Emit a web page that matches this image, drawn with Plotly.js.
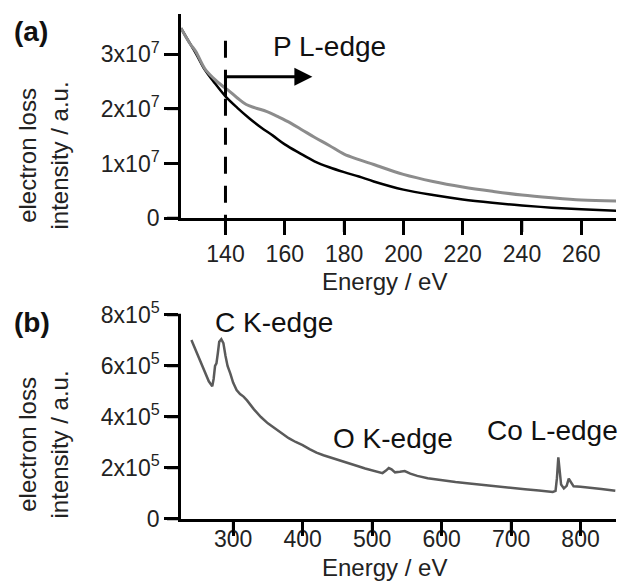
<!DOCTYPE html>
<html>
<head>
<meta charset="utf-8">
<script src="https://cdn.plot.ly/plotly-3.0.1.min.js"></script>
<style>html,body{margin:0;padding:0;background:#fff;}#chart{width:625px;height:586px;}</style>
</head>
<body>
<div id="chart"></div>
<script>
// ---- Panel (a): P L-edge region ----
const energyA = [125,128,130,133,136,139,141,144,147,150,154,158,162,166,170,175,180,185,190,200,210,220,230,240,250,260,272];
const spectrumA = [3.48e7,3.2e7,3.05e7,2.74e7,2.56e7,2.42e7,2.34e7,2.2e7,2.08e7,2.02e7,1.95e7,1.85e7,1.74e7,1.61e7,1.48e7,1.33e7,1.17e7,1.07e7,0.98e7,0.8e7,0.67e7,0.57e7,0.49e7,0.42e7,0.37e7,0.33e7,0.31e7];
const energyFit = [125,128,130,133,136,140,144,148,152,156,160,165,170,175,180,185,190,200,210,220,230,240,250,260,272];
const backgroundFit = [3.48e7,3.2e7,3.02e7,2.72e7,2.5e7,2.23e7,2.02e7,1.83e7,1.66e7,1.51e7,1.35e7,1.19e7,1.04e7,0.93e7,0.84e7,0.76e7,0.67e7,0.52e7,0.42e7,0.34e7,0.28e7,0.23e7,0.19e7,0.16e7,0.13e7];
const edgeOnset = 140;
const arrowLevel = 2.59e7;
const arrowEnd = 169.3;
const fitAtOnset = 2.23e7;
const xTicksA = [140,160,180,200,220,240,260];
const yTicksA = [0,1e7,2e7,3e7];
const yTickTextA = ['0','1x10<sup>7</sup>','2x10<sup>7</sup>','3x10<sup>7</sup>'];

// ---- Panel (b): survey spectrum ----
const energyB = [240,245,250,255,260,265,270,272,274,276,278,280,283,286,289,292,296,300,305,310,315,320,330,340,350,360,370,380,390,400,410,420,430,440,450,460,470,480,490,500,510,515,520,524,528,533,540,547,555,565,580,600,620,640,660,680,700,720,740,760,764,766,768,770,772,776,780,783,786,790,800,815,830,850];
const spectrumB = [7.02e5,6.7e5,6.35e5,6.0e5,5.7e5,5.4e5,5.2e5,5.5e5,6.0e5,6.1e5,6.5e5,6.95e5,7.05e5,6.9e5,6.4e5,6.0e5,5.7e5,5.35e5,5.06e5,4.9e5,4.8e5,4.65e5,4.3e5,4.0e5,3.75e5,3.55e5,3.35e5,3.17e5,3.02e5,2.9e5,2.74e5,2.6e5,2.5e5,2.42e5,2.33e5,2.24e5,2.17e5,2.07e5,1.98e5,1.9e5,1.82e5,1.8e5,1.9e5,2.0e5,1.95e5,1.83e5,1.85e5,1.88e5,1.78e5,1.69e5,1.6e5,1.52e5,1.45e5,1.39e5,1.33e5,1.28e5,1.23e5,1.17e5,1.12e5,1.06e5,1.1e5,1.6e5,2.42e5,1.8e5,1.35e5,1.2e5,1.3e5,1.58e5,1.45e5,1.28e5,1.26e5,1.23e5,1.18e5,1.11e5];
const xTicksB = [300,400,500,600,700,800];
const yTicksB = [0,2e5,4e5,6e5,8e5];
const yTickTextB = ['0','2x10<sup>5</sup>','4x10<sup>5</sup>','6x10<sup>5</sup>','8x10<sup>5</sup>'];

const edgeLabels = [
  {text:'P L-edge', x:175, y:3.14e7, xref:'x', yref:'y'},
  {text:'C K-edge', x:359, y:7.69e5, xref:'x2', yref:'y2'},
  {text:'O K-edge', x:530.5, y:3.14e5, xref:'x2', yref:'y2'},
  {text:'Co L-edge', x:760, y:3.49e5, xref:'x2', yref:'y2'}
];

const FONT = 'Liberation Sans, Arial, sans-serif';
// layout geometry (paper fractions)
const DOM_X = [0.03118, 1];        // main x axes
const DOM_YTICK = [0, 0.03118];    // strip left of y axes holding tick marks
const DOM_A = [0.60694, 1];
const DOM_B = [0.02697, 0.42004];
const DOM_XTICK_A = [0.57996, 0.60694];
const DOM_XTICK_B = [0, 0.02697];

const tickMarker = (sym) => ({symbol:sym, size:10, color:'#000', line:{width:2.5, color:'#000'}});

const traces = [
  {x: energyFit, y: backgroundFit, type:'scatter', mode:'lines', line:{color:'#000000', width:2.5, shape:'spline'}, xaxis:'x', yaxis:'y', hoverinfo:'skip'},
  {x: energyA, y: spectrumA, type:'scatter', mode:'lines', line:{color:'#8c8c8c', width:3, shape:'spline'}, xaxis:'x', yaxis:'y', hoverinfo:'skip'},
  {x: energyB, y: spectrumB, type:'scatter', mode:'lines', line:{color:'#5a5a5a', width:2.5}, xaxis:'x2', yaxis:'y2', hoverinfo:'skip'},
  // tick marks, placed by the axes' own scales in thin strips next to each axis
  {x: xTicksA, y: xTicksA.map(() => 0.5), type:'scatter', mode:'markers', marker:tickMarker('line-ns'), xaxis:'x', yaxis:'y3', cliponaxis:false, hoverinfo:'skip'},
  {x: xTicksB, y: xTicksB.map(() => 0.5), type:'scatter', mode:'markers', marker:tickMarker('line-ns'), xaxis:'x2', yaxis:'y4', cliponaxis:false, hoverinfo:'skip'},
  {x: yTicksA.map(() => 0.5), y: yTicksA, type:'scatter', mode:'markers', marker:tickMarker('line-ew'), xaxis:'x3', yaxis:'y', cliponaxis:false, hoverinfo:'skip'},
  {x: yTicksB.map(() => 0.5), y: yTicksB, type:'scatter', mode:'markers', marker:tickMarker('line-ew'), xaxis:'x3', yaxis:'y2', cliponaxis:false, hoverinfo:'skip'}
];

function axisBase(){
  return {
    showline:true, linecolor:'#000', linewidth:2.5,
    ticks:'outside', ticklen:14, tickwidth:2.5, tickcolor:'#000',
    showgrid:false, zeroline:false,
    tickfont:{family:FONT, size:23, color:'#222'},
    tickmode:'array'
  };
}
const hiddenAxis = (domain, anchor) => ({visible:false, range:[0,1], domain:domain, anchor:anchor, fixedrange:true, showgrid:false, zeroline:false});

const layout = {
  width:625, height:586,
  margin:{l:167, r:9, t:14, b:53},
  paper_bgcolor:'#fff', plot_bgcolor:'rgba(0,0,0,0)',
  showlegend:false,
  font:{family:FONT, color:'#222'},
  xaxis: Object.assign(axisBase(), {domain:DOM_X, anchor:'y', range:[125,271.7], tickvals:xTicksA}),
  yaxis: Object.assign(axisBase(), {domain:DOM_A, anchor:'x', range:[0,3.74e7], tickvals:yTicksA, ticktext:yTickTextA}),
  xaxis2: Object.assign(axisBase(), {domain:DOM_X, anchor:'y2', range:[225,851], tickvals:xTicksB, ticklabelstandoff:-16}),
  yaxis2: Object.assign(axisBase(), {domain:DOM_B, anchor:'x2', range:[0,8e5], tickvals:yTicksB, ticktext:yTickTextB}),
  xaxis3: hiddenAxis(DOM_YTICK, 'y'),
  yaxis3: hiddenAxis(DOM_XTICK_A, 'x'),
  yaxis4: hiddenAxis(DOM_XTICK_B, 'x2'),
  shapes:[
    {type:'line', xref:'x', yref:'paper', x0:edgeOnset, x1:edgeOnset, y0:0.9484, y1:0.5777, line:{color:'#000', width:3, dash:'17px,12px'}},
    {type:'line', xref:'x', yref:'y', x0:edgeOnset, x1:edgeOnset, y0:fitAtOnset, y1:arrowLevel, line:{color:'#000', width:3}}
  ],
  annotations:[
    {xref:'x', yref:'y', axref:'x', ayref:'y', x:arrowEnd, y:arrowLevel, ax:edgeOnset, ay:arrowLevel, text:'', showarrow:true, arrowhead:2, arrowsize:1.2, arrowwidth:3, arrowcolor:'#000'},
    {xref:'paper', yref:'paper', x:-0.2751, y:0.7283, xanchor:'center', yanchor:'middle', textangle:-90, showarrow:false, text:'electron loss<br>intensity / a.u.', font:{family:FONT, size:24, color:'#222'}},
    {xref:'paper', yref:'paper', x:-0.2751, y:0.1715, xanchor:'center', yanchor:'middle', textangle:-90, showarrow:false, text:'electron loss<br>intensity / a.u.', font:{family:FONT, size:24, color:'#222'}},
    {xref:'paper', yref:'paper', x:0.4833, y:0.4854, xanchor:'center', yanchor:'middle', showarrow:false, text:'Energy / eV', font:{family:FONT, size:24, color:'#222'}},
    {xref:'paper', yref:'paper', x:0.4855, y:-0.0674, xanchor:'center', yanchor:'middle', showarrow:false, text:'Energy / eV', font:{family:FONT, size:24, color:'#222'}},
    {xref:'paper', yref:'paper', x:-0.3029, y:0.9669, xanchor:'center', yanchor:'middle', showarrow:false, text:'<b>(a)</b>', font:{family:FONT, size:28, color:'#111'}},
    {xref:'paper', yref:'paper', x:-0.3011, y:0.4054, xanchor:'center', yanchor:'middle', showarrow:false, text:'<b>(b)</b>', font:{family:FONT, size:28, color:'#111'}}
  ].concat(edgeLabels.map(l => ({xref:l.xref, yref:l.yref, x:l.x, y:l.y, xanchor:'center', yanchor:'middle', showarrow:false, text:l.text, font:{family:FONT, size:28, color:'#111'}})))
};

Plotly.newPlot('chart', traces, layout, {displayModeBar:false});
</script>
</body>
</html>
